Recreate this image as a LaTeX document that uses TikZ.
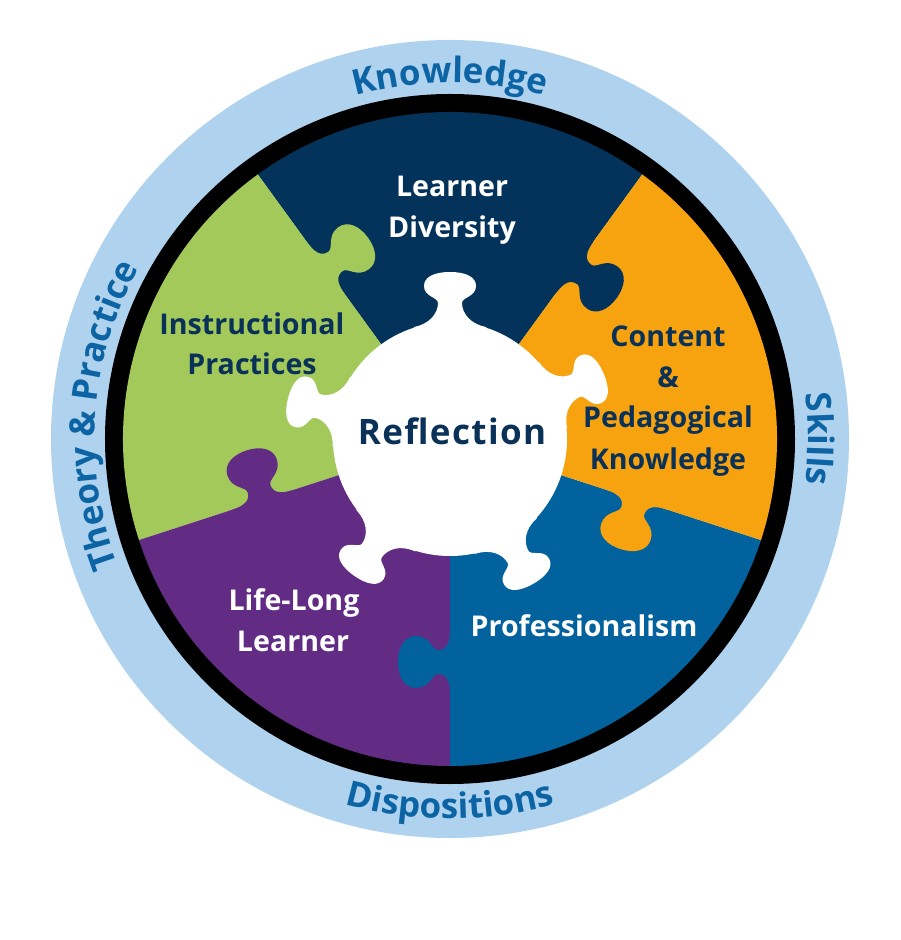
\documentclass[tikz,border=0pt]{standalone}
\usepackage{fontspec}
\setmainfont{Open Sans}
\usetikzlibrary{decorations.text}
\definecolor{cNavy}{HTML}{03335A}
\definecolor{cGreen}{HTML}{A3C95A}
\definecolor{cOrange}{HTML}{F6A30F}
\definecolor{cBlue}{HTML}{02629E}
\definecolor{cPurple}{HTML}{622C84}
\definecolor{cRing}{HTML}{AFD3EF}
\definecolor{cRingTxt}{HTML}{0D64A4}
\definecolor{cDark}{HTML}{0A3158}
\newcommand{\ringfont}{\fontsize{17.5}{17.5}\selectfont\bfseries\color{cRingTxt}}
% puzzle tab on a radial boundary, bulging clockwise
\newcommand{\sectortab}[3]{%
  \fill[#3, shift={(#1:#2)}, rotate=#1-90]
    (-6,-32) -- (0,-32) .. controls (0,-18) and (4,-12) .. (12,-12)
    .. controls (18,-12) and (20,-26) .. (34,-26)
    .. controls (46,-26) and (52,-14) .. (52,0)
    .. controls (52,14) and (46,26) .. (34,26)
    .. controls (20,26) and (18,12) .. (12,12)
    .. controls (4,12) and (0,18) .. (0,32) -- (-6,32) -- cycle;}
% knob of the central piece, pointing outward
\newcommand{\whiteknob}[1]{%
  \fill[white, shift={(#1:112)}, rotate=#1]
    (-14,-36) -- (0,-36) .. controls (3,-20) and (14,-12) .. (24,-12)
    .. controls (30,-12) and (30,-26) .. (41,-26)
    .. controls (50,-26) and (55,-16) .. (55,0)
    .. controls (55,16) and (50,26) .. (41,26)
    .. controls (30,26) and (30,12) .. (24,12)
    .. controls (14,12) and (3,20) .. (0,36) -- (-14,36) -- cycle;}
\begin{document}
\begin{tikzpicture}[x=0.5pt,y=0.5pt,
  lab/.style={anchor=base, inner sep=0, font=\fontsize{14.3}{14.3}\selectfont\bfseries},
  ringtext/.style={decorate, decoration={text along path, text align=center, text={|\ringfont|#1}}}]
\useasboundingbox (-450,-501) rectangle (450,439);
\fill[white] (-450,-501) rectangle (450,439);
% rings
\fill[cRing, even odd rule] (0,0) circle[radius=399] (0,0) circle[radius=344];
\fill[black, even odd rule] (0,0) circle[radius=345] (0,0) circle[radius=326];
% sectors
\fill[cNavy]   (0,0) -- (54:327)  arc[start angle=54,  end angle=126, radius=327] -- cycle;
\fill[cGreen]  (0,0) -- (126:327) arc[start angle=126, end angle=198, radius=327] -- cycle;
\fill[cPurple] (0,0) -- (198:327) arc[start angle=198, end angle=270, radius=327] -- cycle;
\fill[cBlue]   (0,0) -- (270:327) arc[start angle=270, end angle=342, radius=327] -- cycle;
\fill[cOrange] (0,0) -- (342:327) arc[start angle=342, end angle=414, radius=327] -- cycle;
% tabs between sectors
\sectortab{126}{211}{cGreen}
\sectortab{54}{212}{cNavy}
\sectortab{342}{196}{cOrange}
\sectortab{270}{223}{cBlue}
\sectortab{198}{197}{cPurple}
% central piece
\fill[white] (0,0) circle[radius=117];
\whiteknob{90}
\whiteknob{23}
\whiteknob{166}
\whiteknob{235}
\whiteknob{300}
% labels
\node[lab, text=white] (ld1) at (2,242) {Learner};
\node[lab, text=white] (ld2) at (2,201) {Diversity};
\node[lab, text=cDark] (ip1) at (-198,104) {Instructional};
\node[lab, text=cDark] (ip2) at (-198,64) {Practices};
\node[lab, text=cDark] (cp1) at (218,92) {Content};
\node[lab, text=cDark] (cp2) at (218,51) {\&};
\node[lab, text=cDark] (cp3) at (218,11) {Pedagogical};
\node[lab, text=cDark] (cp4) at (218,-31) {Knowledge};
\node[lab, text=white] (ll1) at (-156,-171) {Life-Long};
\node[lab, text=white] (ll2) at (-157,-213) {Learner};
\node[lab, text=white] (pr) at (134,-198) {Professionalism};
\node[anchor=base, inner sep=0, text=cDark,
  font=\fontsize{17.5}{17.5}\selectfont\bfseries\addfontfeature{LetterSpace=4}] (refl) at (2,-6) {Reflection};
% ring texts
\path[ringtext={Knowledge}] (150:356) arc[start angle=150, end angle=30, radius=356];
\path[ringtext={Skills}] (30:358) arc[start angle=30, end angle=-30, radius=358];
\path[ringtext={Dispositions}] (235:380) arc[start angle=235, end angle=305, radius=380];
\path[ringtext={Theory {\&} Practice}] (215:355) arc[start angle=215, end angle=137, radius=355];
\end{tikzpicture}
\end{document}
